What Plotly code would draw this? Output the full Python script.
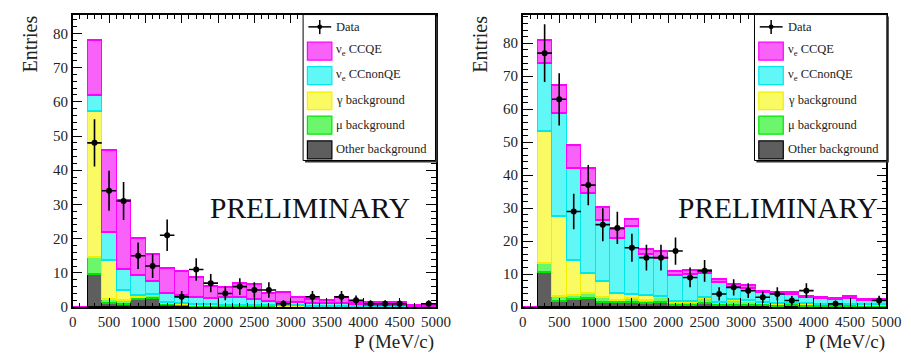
import plotly.graph_objects as go
from plotly.subplots import make_subplots

# ---------------- data ----------------
bin_centers = [100 + 200 * i for i in range(25)]  # 200 MeV/c bins, 0-5000

# left panel components (stack order bottom -> top)
L_other = [0, 9.6, 1.0, 0.8, 2.2, 2.5, 0.8, 0.5, 0.3, 0.3, 0.2, 0.2, 0.2, 0.1, 0.1, 0.1, 0.1, 0.1, 0.1, 0.1, 0.0, 0.0, 0.0, 0.0, 0.0]
L_mu    = [0, 4.8, 1.2, 1.0, 0.7, 0.8, 0.2, 0.3, 0.3, 0.3, 0.3, 0.3, 0.2, 0.3, 0.2, 0.2, 0.2, 0.2, 0.2, 0.1, 0.2, 0.2, 0.2, 0.1, 0.1]
L_gamma = [0, 42.9, 11.4, 3.1, 0.5, 0.4, 0.2, 0.2, 0.2, 0.1, 0.1, 0.1, 0.1, 0.1, 0.1, 0.1, 0.0, 0.0, 0.0, 0.1, 0.0, 0.0, 0.0, 0.0, 0.0]
L_nonqe = [0, 4.4, 8.1, 6.1, 5.7, 3.7, 2.9, 2.4, 2.1, 1.8, 2.3, 2.3, 1.7, 1.2, 1.0, 0.8, 0.7, 0.6, 0.7, 0.4, 0.4, 0.3, 0.3, 0.2, 0.2]
L_ccqe  = [0, 16.1, 24.0, 20.1, 10.9, 8.0, 7.3, 7.1, 5.6, 3.5, 2.8, 3.9, 4.3, 2.4, 3.0, 1.7, 1.2, 1.0, 1.9, 0.7, 0.8, 0.9, 0.7, 0.1, 0.1]
L_data  = [0, 48, 34, 31, 15, 12, 21, 3, 11, 7, 4, 6, 5, 5, 1, 0, 3, 0, 3, 2, 1, 1, 1, 0, 1]

# right panel components
R_other = [0, 10.4, 1.8, 2.3, 2.7, 1.3, 1.3, 1.5, 1.1, 1.3, 0.5, 0.5, 1.0, 0.5, 0.5, 0.5, 0.4, 0.2, 0.4, 0.3, 0.3, 0.3, 0.3, 0.2, 0.2]
R_mu    = [0, 2.9, 1.5, 1.3, 1.3, 1.7, 0.7, 1.0, 0.9, 1.5, 1.0, 1.0, 1.6, 0.7, 1.5, 1.3, 0.8, 0.6, 0.6, 0.6, 0.5, 0.5, 0.5, 0.4, 0.4]
R_gamma = [0, 40.0, 24.1, 10.5, 6.2, 4.9, 2.2, 1.3, 1.6, 0.3, 0.3, 0.2, 0.2, 0.2, 0.4, 0.3, 0.2, 0.4, 0.2, 0.1, 0.1, 0.1, 0.1, 0.1, 0.1]
R_nonqe = [0, 20.5, 31.4, 27.9, 24.3, 18.2, 16.5, 20.5, 12.2, 11.7, 7.9, 8.3, 7.4, 6.1, 3.4, 3.6, 2.9, 2.8, 2.7, 1.9, 1.6, 1.3, 1.8, 1.3, 1.2]
R_ccqe  = [0, 6.9, 8.4, 7.1, 7.5, 4.0, 2.8, 2.1, 1.8, 2.0, 1.2, 1.2, 1.0, 1.0, 0.9, 0.7, 0.4, 0.4, 0.4, 0.3, 0.3, 0.3, 0.4, 0.4, 0.4]
R_data  = [0, 77, 63, 29, 37, 25, 24, 18, 15, 15, 17, 9, 11, 4, 6, 5, 3, 4, 2, 5, 0, 1, 0, 0, 2]

x_ticks = [0, 500, 1000, 1500, 2000, 2500, 3000, 3500, 4000, 4500, 5000]
y_ticks = [0, 10, 20, 30, 40, 50, 60, 70, 80]
y_max = [85.5, 88.7]

# ---------------- styling ----------------
W, H = 911, 356
FONT = '"Liberation Serif", "Times New Roman", Times, serif'
comp_names = ["Other background", "μ background", "γ background", "ν<sub>e</sub> CCnonQE", "ν<sub>e</sub> CCQE"]
fills = ["#5e5e5e", "#6cf66c", "#fafa62", "#62f7f7", "#f862f8"]
lines = ["#000000", "#00e600", "#f0f000", "#00e8e8", "#ff00ff"]

fig = make_subplots(rows=1, cols=2)

panels = [(L_other, L_mu, L_gamma, L_nonqe, L_ccqe, L_data),
          (R_other, R_mu, R_gamma, R_nonqe, R_ccqe, R_data)]

for p, comps in enumerate(panels):
    col = p + 1
    for k in range(5):
        fig.add_trace(go.Bar(
            x=bin_centers, y=comps[k], width=200,
            marker=dict(color=fills[k], line=dict(color=lines[k], width=1.2)),
            name=comp_names[k], showlegend=False), row=1, col=col)
    data = comps[5]
    dx = [bin_centers[i] for i in range(25) if data[i] > 0]
    dy = [data[i] for i in range(25) if data[i] > 0]
    fig.add_trace(go.Scatter(
        x=dx, y=dy, mode="markers",
        marker=dict(color="black", size=6),
        error_y=dict(type="data", array=[v ** 0.5 for v in dy], color="black", thickness=1.6, width=0),
        error_x=dict(type="constant", value=100, color="black", thickness=1.6, width=0),
        name="Data", showlegend=False), row=1, col=col)

def px(x):
    return x / W

def py(y):
    return 1 - y / H

domains = [[px(62), px(433)], [px(521.7), px(893)]]
for p in range(2):
    xa = "xaxis" if p == 0 else "xaxis2"
    ya = "yaxis" if p == 0 else "yaxis2"
    fig.layout[xa].update(
        domain=domains[p], range=[0, 5000], tickvals=x_ticks,
        ticktext=[str(v) for v in x_ticks],
        ticks="inside", ticklen=9, tickwidth=1, tickcolor="black",
        minor=dict(ticks="inside", ticklen=4.5, dtick=100, tickcolor="black", tickwidth=1),
        showline=True, linecolor="black", linewidth=1.5, mirror="allticks",
        showgrid=False, zeroline=False,
        tickfont=dict(family=FONT, size=15, color="#222"))
    fig.layout[ya].update(
        domain=[py(306), py(6.7)], range=[0, y_max[p]], tickvals=y_ticks,
        ticks="inside", ticklen=10, tickwidth=1, tickcolor="black",
        minor=dict(ticks="inside", ticklen=5, dtick=2, tickcolor="black", tickwidth=1),
        showline=True, linecolor="black", linewidth=1.5, mirror="allticks",
        showgrid=False, zeroline=False,
        tickfont=dict(family=FONT, size=15, color="#222"))

annotations = []
shapes = []
for p in range(2):
    off = 0 if p == 0 else 461
    yx = 18.5 if p == 0 else 478.3
    annotations.append(dict(x=px(yx), y=py(6), xref="paper", yref="paper", text="Entries",
                            textangle=-90, showarrow=False, xanchor="center", yanchor="top",
                            font=dict(family=FONT, size=20, color="#222")))
    xr = 433 if p == 0 else 893.3
    annotations.append(dict(x=px(xr), y=py(342), xref="paper", yref="paper", text="P (MeV/c)",
                            showarrow=False, xanchor="right", yanchor="middle",
                            font=dict(family=FONT, size=19, color="#222")))
    pc = 304 if p == 0 else 782.3
    annotations.append(dict(x=px(pc), y=py(205), xref="paper", yref="paper", text="PRELIMINARY",
                            showarrow=False, xanchor="center", yanchor="middle",
                            font=dict(family=FONT, size=29.5, color="#111")))
    # legend box with shadow
    bx0, bx1, by0, by1 = 297.3 + off, 432.5 + off, 6.7, 156
    shapes.append(dict(type="rect", xref="paper", yref="paper",
                       x0=px(bx0 + 2), x1=px(bx1 + 2), y0=py(by1 + 2), y1=py(by0 + 2),
                       fillcolor="#333", line=dict(width=0)))
    shapes.append(dict(type="rect", xref="paper", yref="paper",
                       x0=px(bx0), x1=px(bx1), y0=py(by1), y1=py(by0),
                       fillcolor="white", line=dict(color="black", width=1)))
    # Data legend entry
    shapes.append(dict(type="line", xref="paper", yref="paper",
                       x0=px(302.7 + off), x1=px(326 + off), y0=py(19.3), y1=py(19.3),
                       line=dict(color="black", width=1.5)))
    shapes.append(dict(type="line", xref="paper", yref="paper",
                       x0=px(314.3 + off), x1=px(314.3 + off), y0=py(12.3), y1=py(26.7),
                       line=dict(color="black", width=1.5)))
    shapes.append(dict(type="circle", xref="paper", yref="paper",
                       x0=px(311.8 + off), x1=px(316.8 + off), y0=py(21.8), y1=py(16.8),
                       fillcolor="black", line=dict(color="black", width=0)))
    tx = 329 + off
    annotations.append(dict(x=px(tx), y=py(19.3), xref="paper", yref="paper", text="Data",
                            showarrow=False, xanchor="left", yanchor="middle",
                            font=dict(family=FONT, size=12.5, color="#222")))
    rows = [(4, 35, 53.3, 43.3), (3, 60, 78.3, 68.3), (2, 86, 104, 94.3), (1, 110.7, 129, 119.3), (0, 136, 154.3, 144.3)]
    for k, t, b, c in rows:
        shapes.append(dict(type="rect", xref="paper", yref="paper",
                           x0=px(301.7 + off), x1=px(326.7 + off), y0=py(b), y1=py(t),
                           fillcolor=fills[k], line=dict(color=lines[k], width=1.2)))
        annotations.append(dict(x=px(tx), y=py(c), xref="paper", yref="paper", text=comp_names[k],
                                showarrow=False, xanchor="left", yanchor="middle",
                                font=dict(family=FONT, size=12.5, color="#222")))

fig.update_layout(
    width=W, height=H, barmode="stack", bargap=0,
    margin=dict(l=0, r=0, t=0, b=0),
    paper_bgcolor="white", plot_bgcolor="white",
    showlegend=False, annotations=annotations, shapes=shapes,
    font=dict(family=FONT))

fig.write_html("out.html")
